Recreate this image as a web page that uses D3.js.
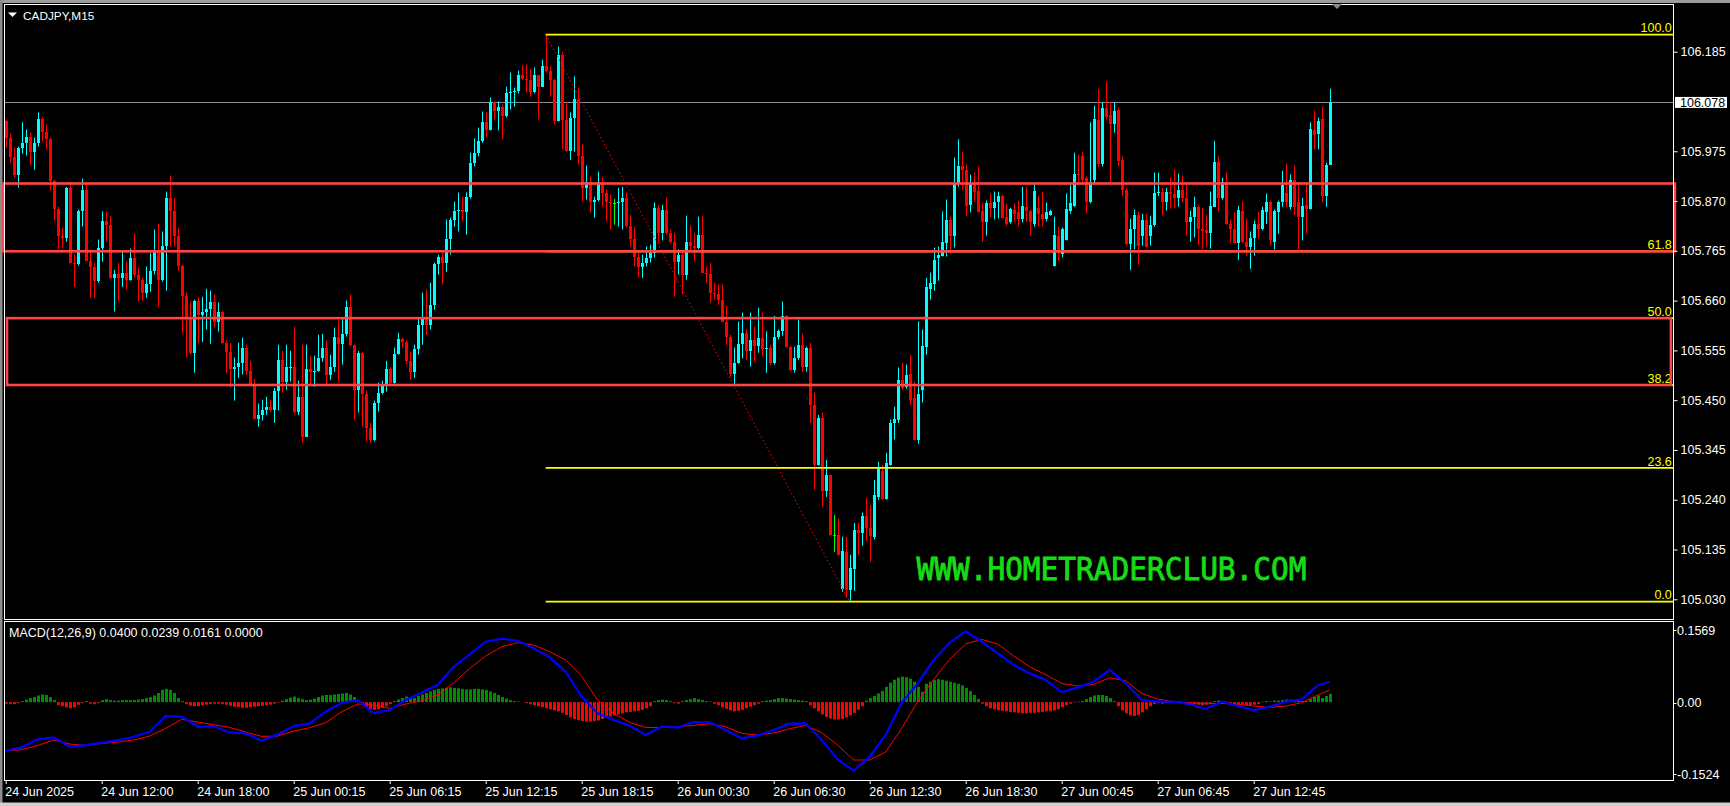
<!DOCTYPE html>
<html>
<head>
<meta charset="utf-8">
<script src="https://cdn.jsdelivr.net/npm/d3@7"></script>
<style>
html,body{margin:0;padding:0;background:#000;overflow:hidden;}
svg{display:block;}
</style>
</head>
<body>
<svg id="chart" width="1730" height="806"></svg>
<script>
// ---------------- DATA ----------------
const chartTitle = "CADJPY,M15";
const macdTitle = "MACD(12,26,9) 0.0400 0.0239 0.0161 0.0000";
const watermark = "WWW.HOMETRADERCLUB.COM";

const timeLabels = ["24 Jun 2025","24 Jun 12:00","24 Jun 18:00","25 Jun 00:15","25 Jun 06:15","25 Jun 12:15","25 Jun 18:15","26 Jun 00:30","26 Jun 06:30","26 Jun 12:30","26 Jun 18:30","27 Jun 00:45","27 Jun 06:45","27 Jun 12:45"];
const timeLabelBars = [0,24,48,72,96,120,144,168,192,216,240,264,288,312];
const priceTicks = [106.185,105.975,105.870,105.765,105.660,105.555,105.450,105.345,105.240,105.135,105.030];
const macdTickValues = [0.1569, 0.00, -0.1524];
const macdTickLabels = ["0.1569","0.00","-0.1524"];

const opens = [
106.038,106.004,105.962,105.924,105.981,105.993,106.006,105.974,105.993,106.042,
106.016,106.000,105.913,105.854,105.797,105.793,105.898,105.740,105.738,105.850,
105.894,105.744,105.730,105.702,105.770,105.827,105.820,105.708,105.717,105.708,
105.719,105.704,105.749,105.713,105.704,105.675,105.696,105.723,105.763,105.704,
105.776,105.877,105.848,105.797,105.732,105.670,105.622,105.550,105.660,105.630,
105.635,105.643,105.658,105.614,105.637,105.571,105.552,105.516,105.519,105.529,
105.559,105.512,105.485,105.411,105.419,105.430,105.436,105.430,105.470,105.535,
105.489,105.519,105.521,105.424,105.457,105.373,105.516,105.510,105.512,105.540,
105.561,105.504,105.519,105.584,105.569,105.590,105.647,105.567,105.472,105.550,
105.462,105.392,105.367,105.443,105.466,105.483,105.516,105.487,105.548,105.578,
105.573,105.533,105.510,105.557,105.609,105.624,105.609,105.651,105.738,105.753,
105.740,105.791,105.831,105.848,105.852,105.846,105.879,105.951,105.972,105.997,
106.036,106.019,106.078,106.059,106.069,106.050,106.097,106.101,106.103,106.135,
106.128,106.126,106.099,106.135,106.111,106.154,106.145,106.126,106.038,106.179,
106.040,105.976,106.046,106.086,105.966,105.898,105.911,105.869,105.873,105.911,
105.888,105.867,105.865,105.865,105.869,105.877,105.818,105.791,105.751,105.730,
105.740,105.749,105.761,105.856,105.803,105.852,105.803,105.784,105.742,105.757,
105.715,105.784,105.776,105.770,105.799,105.719,105.717,105.677,105.673,105.662,
105.614,105.584,105.506,105.529,105.569,105.592,105.554,105.576,105.565,105.582,
105.557,105.559,105.529,105.584,105.595,105.628,105.563,105.514,105.540,105.567,
105.521,105.561,105.440,105.314,105.413,105.259,105.293,105.166,105.166,105.052,
105.130,105.050,105.094,105.177,105.170,105.206,105.181,105.162,105.246,105.301,
105.242,105.314,105.402,105.409,105.493,105.478,105.506,105.455,105.367,105.472,
105.563,105.685,105.694,105.749,105.755,105.782,105.829,105.797,105.905,105.943,
105.936,105.862,105.907,105.892,105.848,105.825,105.865,105.856,105.869,105.881,
105.837,105.825,105.852,105.846,105.833,105.858,105.850,105.822,105.856,105.843,
105.833,105.841,105.734,105.797,105.759,105.787,105.850,105.860,105.928,105.966,
105.919,105.867,105.915,106.040,105.949,106.067,106.052,106.033,106.061,105.957,
105.894,105.780,105.810,105.841,105.797,105.829,105.797,105.820,105.886,105.890,
105.869,105.890,105.884,105.877,105.894,105.877,105.825,105.837,105.858,105.812,
105.808,105.803,105.858,105.953,105.877,105.911,105.822,105.810,105.782,105.850,
105.784,105.774,105.793,105.822,105.812,105.846,105.867,105.784,105.846,105.867,
105.888,105.858,105.915,105.867,105.837,105.862,105.854,106.019,106.012,106.042,105.881,105.947];

const highs = [
106.042,106.012,105.983,105.985,106.036,106.021,106.014,106.004,106.057,106.048,
106.031,106.004,105.915,105.858,105.814,105.900,105.911,105.757,105.852,105.917,
105.907,105.763,105.740,105.789,105.848,105.848,105.839,105.725,105.740,105.763,
105.742,105.770,105.801,105.730,105.708,105.732,105.761,105.810,105.822,105.806,
105.890,105.924,105.877,105.814,105.736,105.677,105.658,105.662,105.668,105.668,
105.685,105.681,105.673,105.656,105.639,105.576,105.571,105.540,105.571,105.582,
105.567,105.533,105.495,105.443,105.451,105.457,105.451,105.476,105.567,105.554,
105.567,105.554,105.605,105.491,105.567,105.567,105.544,105.544,105.588,105.590,
105.576,105.546,105.603,105.618,105.622,105.660,105.673,105.567,105.554,105.552,
105.470,105.402,105.449,105.487,105.491,105.533,105.519,105.561,105.592,105.582,
105.576,105.552,105.567,105.624,105.677,105.683,105.698,105.740,105.757,105.761,
105.831,105.835,105.869,105.888,105.879,105.888,105.972,106.002,106.025,106.059,
106.057,106.088,106.080,106.080,106.073,106.111,106.141,106.109,106.145,106.156,
106.158,106.149,106.152,106.135,106.168,106.221,106.154,106.128,106.196,106.185,
106.078,106.057,106.133,106.109,105.989,105.945,105.922,105.879,105.932,105.922,
105.894,105.884,105.875,105.898,105.900,105.888,105.841,105.816,105.761,105.757,
105.774,105.778,105.867,105.862,105.862,105.877,105.810,105.803,105.768,105.768,
105.839,105.818,105.803,105.837,105.839,105.732,105.740,105.698,105.694,105.694,
105.649,105.588,105.561,105.616,105.635,105.599,105.635,105.605,105.645,105.635,
105.595,105.567,105.628,105.599,105.658,105.630,105.565,105.563,105.620,105.590,
105.563,105.571,105.466,105.419,105.424,105.324,105.293,105.208,105.200,105.162,
105.162,105.124,105.191,105.191,105.213,105.244,105.229,105.282,105.320,105.314,
105.339,105.409,105.436,105.519,105.529,105.525,105.546,105.489,105.616,105.599,
105.708,105.719,105.772,105.774,105.848,105.873,105.837,105.962,106.000,105.974,
105.947,105.926,105.930,105.943,105.867,105.871,105.886,105.890,105.890,105.884,
105.865,105.856,105.865,105.871,105.900,105.900,105.852,105.909,105.881,105.890,
105.867,105.852,105.837,105.816,105.814,105.886,105.905,105.972,105.968,105.974,
105.922,106.036,106.071,106.107,106.078,106.122,106.078,106.078,106.067,105.964,
105.898,105.833,105.852,105.848,105.843,105.843,105.839,105.930,105.930,105.898,
105.898,105.919,105.936,105.928,105.924,105.905,105.850,105.879,105.862,105.856,
105.841,105.890,105.997,105.964,105.919,105.930,105.831,105.846,105.860,105.869,
105.833,105.806,105.829,105.848,105.858,105.886,105.871,105.852,105.871,105.934,
105.949,105.926,105.945,105.905,105.877,105.905,106.036,106.061,106.046,106.069,105.951,106.107];

const lows = [
105.983,105.951,105.919,105.898,105.970,105.966,105.945,105.936,105.985,105.995,
105.979,105.892,105.829,105.768,105.772,105.784,105.738,105.689,105.734,105.816,
105.744,105.666,105.666,105.698,105.742,105.784,105.706,105.637,105.658,105.689,
105.683,105.702,105.708,105.658,105.660,105.666,105.679,105.715,105.647,105.700,
105.681,105.774,105.774,105.723,105.592,105.540,105.546,105.508,105.571,105.573,
105.599,105.569,105.603,105.595,105.569,105.508,105.476,105.449,105.497,105.504,
105.504,105.483,105.409,105.394,105.407,105.419,105.426,105.402,105.428,105.466,
105.472,105.489,105.421,105.419,105.360,105.373,105.483,105.478,105.510,105.531,
105.483,105.493,105.510,105.489,105.525,105.584,105.563,105.409,105.424,105.394,
105.363,105.360,105.363,105.426,105.462,105.468,105.483,105.485,105.546,105.561,
105.525,105.493,105.497,105.546,105.567,105.588,105.599,105.641,105.715,105.694,
105.721,105.757,105.816,105.806,105.827,105.799,105.875,105.943,105.964,105.993,
106.004,106.019,106.042,106.019,106.000,106.046,106.063,106.069,106.097,106.126,
106.099,106.090,106.097,106.042,106.111,106.141,106.090,106.031,106.038,105.979,
105.974,105.957,105.974,105.947,105.869,105.873,105.846,105.835,105.869,105.858,
105.827,105.810,105.820,105.816,105.810,105.814,105.774,105.732,105.708,105.708,
105.732,105.740,105.751,105.782,105.787,105.799,105.782,105.668,105.715,105.673,
105.704,105.763,105.742,105.768,105.719,105.698,105.656,105.662,105.651,105.614,
105.567,105.500,105.483,105.527,105.538,105.535,105.521,105.531,105.550,105.542,
105.508,105.523,105.525,105.578,105.586,105.561,105.512,105.508,105.535,105.510,
105.510,105.402,105.261,105.312,105.225,105.246,105.164,105.130,105.122,105.046,
105.033,105.027,105.048,105.124,105.143,105.153,105.109,105.156,105.240,105.240,
105.240,105.312,105.367,105.402,105.472,105.474,105.440,105.365,105.358,105.445,
105.546,105.662,105.681,105.702,105.753,105.753,105.759,105.772,105.900,105.894,
105.839,105.846,105.869,105.846,105.784,105.797,105.835,105.831,105.833,105.833,
105.818,105.822,105.827,105.816,105.825,105.827,105.797,105.816,105.816,105.816,
105.827,105.839,105.732,105.744,105.751,105.787,105.843,105.858,105.905,105.905,
105.843,105.865,105.907,105.941,105.943,106.042,105.907,106.014,105.943,105.881,
105.776,105.725,105.768,105.736,105.776,105.772,105.776,105.816,105.881,105.839,
105.850,105.854,105.856,105.858,105.867,105.797,105.784,105.793,105.776,105.768,
105.774,105.770,105.858,105.848,105.873,105.820,105.782,105.780,105.746,105.782,
105.755,105.727,105.755,105.791,105.808,105.822,105.776,105.768,105.801,105.858,
105.858,105.852,105.841,105.768,105.787,105.801,105.852,105.979,105.979,105.867,105.858,105.947];

const closes = [
106.004,105.962,105.924,105.981,105.993,106.006,105.974,105.993,106.042,106.016,
106.000,105.913,105.854,105.797,105.793,105.898,105.740,105.738,105.850,105.894,
105.744,105.730,105.702,105.770,105.827,105.820,105.708,105.717,105.708,105.719,
105.704,105.749,105.713,105.704,105.675,105.696,105.723,105.763,105.704,105.776,
105.877,105.848,105.797,105.732,105.670,105.622,105.550,105.660,105.630,105.635,
105.643,105.658,105.614,105.637,105.571,105.552,105.516,105.519,105.529,105.559,
105.512,105.485,105.411,105.419,105.430,105.436,105.430,105.470,105.535,105.489,
105.519,105.521,105.424,105.457,105.373,105.516,105.510,105.512,105.540,105.561,
105.504,105.519,105.584,105.569,105.590,105.647,105.567,105.472,105.550,105.462,
105.392,105.367,105.443,105.466,105.483,105.516,105.487,105.548,105.578,105.573,
105.533,105.510,105.557,105.609,105.624,105.609,105.651,105.738,105.753,105.740,
105.791,105.831,105.848,105.852,105.846,105.879,105.951,105.972,105.997,106.036,
106.019,106.078,106.059,106.069,106.050,106.097,106.101,106.103,106.135,106.128,
106.126,106.099,106.135,106.111,106.154,106.145,106.126,106.038,106.179,106.040,
105.976,106.046,106.086,105.966,105.898,105.911,105.869,105.873,105.911,105.888,
105.867,105.865,105.865,105.869,105.877,105.818,105.791,105.751,105.730,105.740,
105.749,105.761,105.856,105.803,105.852,105.803,105.784,105.742,105.757,105.715,
105.784,105.776,105.770,105.799,105.719,105.717,105.677,105.673,105.662,105.614,
105.584,105.506,105.529,105.569,105.592,105.554,105.576,105.565,105.582,105.557,
105.559,105.529,105.584,105.595,105.628,105.563,105.514,105.540,105.567,105.521,
105.561,105.440,105.314,105.413,105.259,105.293,105.166,105.166,105.124,105.132,
105.050,105.097,105.177,105.170,105.206,105.181,105.164,105.251,105.308,105.242,
105.318,105.402,105.411,105.493,105.476,105.504,105.451,105.367,105.464,105.565,
105.689,105.698,105.746,105.757,105.784,105.829,105.797,105.907,105.943,105.936,
105.860,105.907,105.890,105.846,105.825,105.865,105.856,105.869,105.881,105.835,
105.822,105.854,105.843,105.833,105.860,105.848,105.825,105.892,105.843,105.833,
105.846,105.850,105.799,105.761,105.810,105.854,105.865,105.928,105.924,105.915,
105.867,105.911,106.044,105.949,106.067,106.048,106.033,106.059,105.955,105.894,
105.780,105.810,105.841,105.776,105.829,105.774,105.820,105.886,105.890,105.867,
105.890,105.884,105.877,105.894,105.877,105.825,105.837,105.858,105.812,105.806,
105.803,105.860,105.953,105.877,105.911,105.822,105.810,105.782,105.852,105.784,
105.774,105.793,105.822,105.812,105.852,105.867,105.787,105.850,105.869,105.903,
105.869,105.915,105.858,105.837,105.860,105.854,106.021,106.010,106.038,105.881,105.947,106.078];

const macdBars = [0,4,8,12,16,20,24,28,32,36,40,44,48,52,56,60,64,68,72,76,80,84,88,92,96,100,104,108,112,116,120,124,128,132,136,140,144,148,152,156,160,164,168,172,176,180,184,188,192,196,200,204,208,212,216,220,224,228,232,236,240,244,248,252,256,260,264,268,272,276,280,284,288,292,296,300,304,308,312,316,320,324,328,331];
const macdMain = [
-0.0951,-0.0885,-0.0729,-0.0690,-0.0872,-0.0840,-0.0794,-0.0748,-0.0677,-0.0579,
-0.0272,-0.0285,-0.0481,-0.0468,-0.0598,-0.0611,-0.0755,-0.0631,-0.0468,-0.0416,
-0.0187,-0.0011,0.0041,-0.0220,-0.0155,0.0041,0.0191,0.0335,0.0694,0.0935,
0.1183,0.1242,0.1203,0.1053,0.0876,0.0596,0.0106,-0.0220,-0.0350,-0.0461,
-0.0644,-0.0481,-0.0494,-0.0390,-0.0396,-0.0546,-0.0709,-0.0651,-0.0546,-0.0422,
-0.0416,-0.0742,-0.1120,-0.1342,-0.1068,-0.0644,-0.0011,0.0368,0.0824,0.1164,
0.1386,0.1183,0.0955,0.0726,0.0563,0.0433,0.0198,0.0289,0.0400,0.0629,
0.0368,0.0041,0.0009,0.0009,-0.0037,-0.0135,0.0009,-0.0076,-0.0155,-0.0089,
0.0009,0.0054,0.0328,0.0400];
const macdSignal = [
-0.0951,-0.0931,-0.0846,-0.0742,-0.0820,-0.0846,-0.0807,-0.0781,-0.0742,-0.0664,
-0.0514,-0.0337,-0.0389,-0.0442,-0.0494,-0.0585,-0.0670,-0.0664,-0.0566,-0.0500,
-0.0403,-0.0187,-0.0037,-0.0057,-0.0122,-0.0037,0.0028,0.0139,0.0381,0.0661,
0.0903,0.1085,0.1164,0.1118,0.0987,0.0824,0.0511,0.0041,-0.0220,-0.0396,
-0.0494,-0.0500,-0.0481,-0.0455,-0.0422,-0.0481,-0.0611,-0.0644,-0.0605,-0.0520,
-0.0455,-0.0598,-0.0840,-0.1133,-0.1133,-0.0977,-0.0514,0.0009,0.0446,0.0837,
0.1138,0.1229,0.1138,0.0903,0.0694,0.0537,0.0368,0.0315,0.0348,0.0478,
0.0420,0.0172,0.0061,0.0009,-0.0011,-0.0031,-0.0024,-0.0044,-0.0076,-0.0102,
-0.0076,-0.0011,0.0139,0.0239];
const macdHist = [
-0.003,-0.004,-0.004,-0.002,
0.002,0.005,0.008,0.010,0.013,0.015,0.014,0.010,0.004,
-0.006,-0.008,-0.010,-0.012,-0.010,-0.005,
-0.002,0.002,-0.003,-0.004,-0.002,
0.004,0.006,0.004,0.003,0.003,0.004,0.004,0.004,0.004,0.005,0.006,0.008,
0.010,0.013,0.018,0.024,0.026,0.024,0.018,0.008,0.002,
-0.004,-0.007,-0.008,-0.008,-0.006,-0.005,-0.004,-0.003,-0.003,-0.004,-0.005,-0.007,-0.009,-0.010,-0.011,-0.011,-0.010,-0.009,-0.008,-0.007,-0.006,-0.005,-0.003,-0.001,
0.003,0.006,0.009,0.011,0.008,0.006,0.004,
0.005,0.007,0.010,0.013,0.014,0.014,0.015,0.016,0.017,0.018,0.015,0.010,0.004,
-0.004,-0.009,-0.013,-0.015,-0.014,-0.011,-0.008,-0.004,
0.002,0.005,0.008,0.011,0.010,0.008,0.012,0.015,
0.018,0.021,0.024,0.026,0.027,0.028,0.029,0.028,0.027,0.026,0.025,0.025,0.026,0.026,0.025,0.024,0.021,0.018,0.014,0.010,
0.007,0.004,0.002,0.001,0.000,
-0.002,-0.004,-0.006,-0.008,-0.010,-0.012,-0.014,-0.016,-0.018,-0.021,-0.025,-0.030,-0.033,-0.035,-0.037,-0.038,-0.038,-0.037,-0.036,
-0.033,-0.030,-0.028,-0.026,-0.024,-0.022,-0.020,-0.019,-0.018,-0.017,-0.015,-0.012,-0.008,
0.002,0.004,0.005,0.004,0.002,-0.002,-0.003,0.002,0.004,
0.006,0.008,0.006,0.004,0.002,0.001,
-0.003,-0.006,-0.010,-0.013,-0.016,-0.018,-0.017,-0.015,-0.012,-0.009,-0.006,-0.003,
0.002,0.003,0.004,0.006,0.008,0.008,0.007,0.006,0.005,0.004,0.003,0.002,
-0.006,-0.012,-0.018,-0.024,-0.029,-0.032,-0.034,-0.034,-0.033,-0.030,-0.026,-0.021,-0.015,-0.008,
0.003,0.008,0.012,0.017,0.022,0.030,0.038,0.044,0.048,0.050,0.049,0.046,0.040,0.030,0.020,0.036,0.040,0.044,0.045,0.044,0.042,0.040,0.038,0.036,0.033,0.028,0.022,0.014,0.006,
-0.003,-0.008,-0.012,-0.014,-0.016,-0.017,-0.018,-0.019,-0.020,-0.021,-0.022,-0.022,-0.021,-0.021,-0.020,-0.019,-0.018,-0.018,-0.016,-0.014,-0.010,-0.006,-0.003,-0.001,
0.001,0.002,0.006,0.010,0.013,0.014,0.014,0.012,0.008,0.002,
-0.008,-0.016,-0.022,-0.026,-0.027,-0.025,-0.020,-0.014,-0.008,-0.004,-0.002,
-0.003,-0.002,-0.001,0.001,0.002,-0.002,-0.003,-0.004,-0.004,-0.005,
-0.006,-0.005,-0.004,
0.002,0.003,0.002,0.001,
-0.002,-0.004,-0.004,-0.005,-0.006,-0.006,-0.005,-0.004,
0.001,0.002,0.001,0.003,0.003,0.004,0.005,0.005,0.004,0.003,0.002,0.002,
0.006,0.010,0.013,0.008,0.012,0.0161];

const fibLevels = [0, 23.6, 38.2, 50, 61.8, 100];
const fibHigh = 106.221, fibLow = 105.025, fibHighBar = 135, fibLowBar = 211;
const zoneTops = [105.907, 105.623];
const zoneBottoms = [105.764, 105.482];
const zoneStartBars = [-0.6, 0.33];
const zoneEndBars = [417.3, 416.3];

// ---------------- LAYOUT / STYLE ----------------
const W = 1730, H = 806;
const paneL = 4.5, paneR = 1673.5, mainT = 4.5, mainB = 619.5, macdT = 621.5, macdB = 780.5;
const bullCol = "#00ffff", bearCol = "#ff0000", dojiCol = "#00ff00";
const zoneCol = "#ff4545", fibCol = "#ffff00";
const axisFont = 12.5;
const uiFont = "'Liberation Sans', Arial, sans-serif";
const monoFont = "'DejaVu Sans Mono', 'Liberation Mono', monospace";

const svg = d3.select("#chart").style("font-family", uiFont);
const x = d3.scaleLinear().domain([0, 331]).range([5.7, 1329.7]);
const y = d3.scaleLinear().domain([105.030, 106.185]).range([599.3, 51.7]);
const ym = d3.scaleLinear().domain([-0.1524, 0.1569]).range([780, 622]);

svg.append("rect").attr("width", W).attr("height", H).attr("fill", "#000");
// window frame bands
svg.append("rect").attr("x",0).attr("y",0).attr("width",W).attr("height",3).attr("fill","#9c9c9c");
svg.append("rect").attr("x",0).attr("y",0).attr("width",2.5).attr("height",H).attr("fill","#8c8c8c");
svg.append("rect").attr("x",0).attr("y",802.5).attr("width",W).attr("height",3.5).attr("fill","#d0d0d0");

const defs = svg.append("defs");
defs.append("clipPath").attr("id","clipMain").append("rect")
  .attr("x",paneL).attr("y",mainT).attr("width",paneR-paneL).attr("height",mainB-mainT);
defs.append("clipPath").attr("id","clipMacd").append("rect")
  .attr("x",paneL).attr("y",macdT).attr("width",paneR-paneL).attr("height",macdB-macdT);

const main = svg.append("g").attr("clip-path","url(#clipMain)");

// current price line
const lastClose = closes[closes.length-1];
main.append("line").attr("x1",paneL).attr("x2",paneR)
  .attr("y1",Math.round(y(lastClose))+0.5).attr("y2",Math.round(y(lastClose))+0.5)
  .attr("stroke","#8a8c96").attr("stroke-width",1);

// candles
const idx = d3.range(closes.length);
const colOf = i => closes[i] > opens[i] ? bullCol : (closes[i] < opens[i] ? bearCol : dojiCol);
main.append("g").selectAll("line").data(idx).join("line")
  .attr("x1", i => Math.round(x(i)) + 0.5).attr("x2", i => Math.round(x(i)) + 0.5)
  .attr("y1", i => y(highs[i])).attr("y2", i => y(lows[i]))
  .attr("stroke", colOf).attr("stroke-width", 1);
main.append("g").selectAll("rect").data(idx).join("rect")
  .attr("x", i => Math.round(x(i)) - 1).attr("width", 3)
  .attr("y", i => Math.round(y(Math.max(opens[i], closes[i]))))
  .attr("height", i => Math.max(1, Math.round(y(Math.min(opens[i], closes[i]))) - Math.round(y(Math.max(opens[i], closes[i])))))
  .attr("fill", colOf);

// fibonacci
const fibPrice = l => fibLow + (fibHigh - fibLow) * l / 100;
main.append("line")
  .attr("x1", x(fibHighBar)).attr("y1", y(fibHigh)).attr("x2", x(fibLowBar)).attr("y2", y(fibLow))
  .attr("stroke", "#ff0000").attr("stroke-width", 1).attr("stroke-dasharray", "1.5,2.5");
main.append("g").selectAll("line").data(fibLevels).join("line")
  .attr("x1", x(fibHighBar)).attr("x2", paneR)
  .attr("y1", l => y(fibPrice(l))).attr("y2", l => y(fibPrice(l)))
  .attr("stroke", fibCol).attr("stroke-width", 1.8);
main.append("g").selectAll("text").data(fibLevels).join("text")
  .attr("x", 1671.8).attr("y", l => y(fibPrice(l)) - 2.2)
  .attr("text-anchor","end").attr("font-size", axisFont).attr("fill", fibCol)
  .text(l => l.toFixed(1));

// zones
svg.append("g").selectAll("rect").data(zoneTops).join("rect")
  .attr("x", (d,i) => x(zoneStartBars[i])).attr("width", (d,i) => x(zoneEndBars[i]) - x(zoneStartBars[i]))
  .attr("y", (d,i) => y(zoneTops[i])).attr("height", (d,i) => y(zoneBottoms[i]) - y(zoneTops[i]))
  .attr("fill","none").attr("stroke", zoneCol).attr("stroke-width", 2.6);

// watermark
svg.append("text").attr("x", 916.5).attr("y", 580)
  .style("font-family", monoFont).style("font-weight", "normal")
  .attr("font-size", 32).attr("textLength", 390).attr("lengthAdjust","spacingAndGlyphs")
  .attr("fill", "#16dc16").attr("stroke", "#16dc16").attr("stroke-width", 0.9)
  .text(watermark);

// pane borders
svg.append("rect").attr("x",paneL).attr("y",mainT).attr("width",paneR-paneL).attr("height",mainB-mainT)
  .attr("fill","none").attr("stroke","#ffffff").attr("stroke-width",1);
svg.append("rect").attr("x",paneL).attr("y",macdT).attr("width",paneR-paneL).attr("height",macdB-macdT)
  .attr("fill","none").attr("stroke","#ffffff").attr("stroke-width",1);

// price axis
const pAxis = svg.append("g").attr("transform", `translate(${paneR},0)`)
  .call(d3.axisRight(y).tickValues(priceTicks).tickSize(4).tickPadding(3).tickFormat(d => d.toFixed(3)));
pAxis.select(".domain").remove();
pAxis.selectAll("line").attr("stroke","#fff");
pAxis.selectAll("text").attr("fill","#fff").attr("font-size",axisFont).style("font-family", uiFont);

// current price box
const cy = y(lastClose);
svg.append("rect").attr("x",1675).attr("y",cy-5.5).attr("width",52).attr("height",11).attr("fill","#fff");
svg.append("text").attr("x",1680).attr("y",cy).attr("dy","0.36em").attr("font-size",axisFont)
  .attr("fill","#000").text(lastClose.toFixed(3));

// time axis
const tAxis = svg.append("g").attr("transform", `translate(0,${macdB-0.5})`)
  .call(d3.axisBottom(x).tickValues(timeLabelBars).tickSize(4).tickPadding(3).tickFormat((d,i) => timeLabels[i]));
tAxis.select(".domain").remove();
tAxis.selectAll("line").attr("stroke","#fff");
tAxis.selectAll("text").attr("fill","#fff").attr("font-size",axisFont).attr("text-anchor","start").attr("x",-1)
  .style("font-family", uiFont);

// MACD pane
const mg = svg.append("g").attr("clip-path","url(#clipMacd)");
mg.append("g").selectAll("rect").data(macdHist.map((v,i)=>[i,v])).join("rect")
  .attr("x", d => Math.round(x(d[0])) - 1).attr("width", 3)
  .attr("y", d => Math.min(ym(0), ym(d[1])))
  .attr("height", d => Math.abs(ym(d[1]) - ym(0)))
  .attr("fill", d => d[1] >= 0 ? "#008c00" : "#ff0000");
const lineGen = arr => d3.line().x((d,i) => x(macdBars[i])).y(d => ym(d))(arr);
mg.append("path").attr("d", lineGen(macdSignal)).attr("fill","none").attr("stroke","#ff0000").attr("stroke-width",1);
mg.append("path").attr("d", lineGen(macdMain)).attr("fill","none").attr("stroke","#0000ff").attr("stroke-width",2.2);

svg.append("text").attr("x",9).attr("y",636.5).attr("font-size",axisFont).attr("fill","#fff").text(macdTitle);

// MACD axis labels
const macdLabelOffsets = [8, 0.6, -6];
const mAxis = svg.append("g");
mAxis.selectAll("line").data(macdTickValues).join("line")
  .attr("x1", paneR).attr("x2", paneR + 3)
  .attr("y1", (d,i) => Math.round(ym(d) + macdLabelOffsets[i]) + 0.5).attr("y2", (d,i) => Math.round(ym(d) + macdLabelOffsets[i]) + 0.5)
  .attr("stroke","#fff");
mAxis.selectAll("text").data(macdTickValues).join("text")
  .attr("x", 1677).attr("y", (d,i) => ym(d) + macdLabelOffsets[i]).attr("dy","0.36em")
  .attr("font-size", axisFont).attr("fill","#fff").text((d,i) => macdTickLabels[i]);

// title
svg.append("path").attr("d","M8,12.5 L17,12.5 L12.5,17 Z").attr("fill","#fff");
svg.append("text").attr("x",23).attr("y",19.5).attr("font-size",11.8).attr("fill","#fff").text(chartTitle);
// chart shift marker
svg.append("path").attr("d","M1332,4 L1342,4 L1337,9 Z").attr("fill","#8a8a8a");
</script>
</body>
</html>
